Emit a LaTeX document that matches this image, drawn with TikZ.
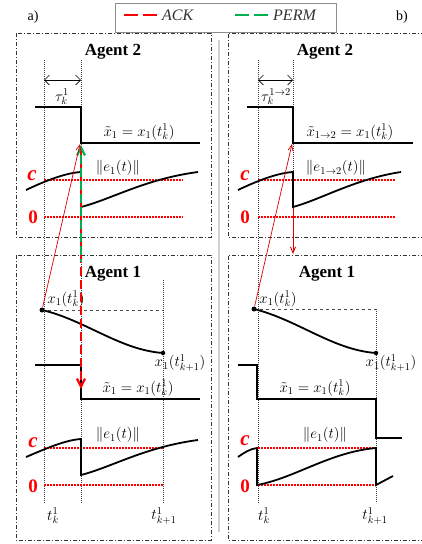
\RequirePackage{fix-cm}
\documentclass[tikz,border=0pt]{standalone}
\usepackage{fontspec}
\setmainfont{Liberation Serif}
\usetikzlibrary{arrows.meta}
\definecolor{myred}{HTML}{FF0000}
\definecolor{mygreen}{HTML}{00B050}
\definecolor{sepgray}{HTML}{D0D0D0}
\begin{document}
\begin{tikzpicture}[x=1pt,y=-1pt,
  sig/.style={line width=1.8pt},
  guide/.style={dash pattern=on 0.8pt off 1.2pt, line width=0.5pt, black!75},
  lvl/.style={dash pattern=on 1.5pt off 1.5pt, line width=1.5pt, myred},
  frame/.style={dash pattern=on 4pt off 2pt on 1pt off 2pt, line width=0.8pt, black!80},
  title/.style={font=\bfseries\fontsize{17}{19}\selectfont, inner sep=0pt},
  lab/.style={font=\fontsize{15}{17}\selectfont, inner sep=0pt},
  clab/.style={text=myred, inner sep=0pt, font=\bfseries\itshape\fontsize{21}{23}\selectfont},
  zlab/.style={text=myred, inner sep=0pt, font=\bfseries\fontsize{19}{21}\selectfont},
  thinred/.style={myred!85!black, line width=0.7pt, -{Straight Barb[length=6pt,width=5pt]}},
  ack/.style={myred, line width=2.2pt, dash pattern=on 9pt off 4pt},
  perm/.style={mygreen, line width=2.2pt, dash pattern=on 9pt off 4pt},
  dot/.style={circle, fill=black, inner sep=0pt, minimum size=5pt},
  plab/.style={font=\fontsize{14}{16}\selectfont, inner sep=0pt}
]
\useasboundingbox (0,0) rectangle (421,544);

% panel labels and legend
\node[plab] (la) at (33,17) {a)};
\node[plab] (lb) at (402,17) {b)};
\draw[black!45, line width=0.6pt] (115,3) rectangle (336,32);
\coordinate (ackA) at (124,15); \coordinate (ackB) at (161,15);
\draw[ack, line width=2pt, dash pattern=on 14pt off 5pt] (ackA) -- (ackB);
\node[font=\itshape\fontsize{16}{18}\selectfont, anchor=west, inner sep=0pt, black!80] (ackT) at (162,15) {ACK};
\coordinate (permA) at (235,15); \coordinate (permB) at (272,15);
\draw[perm, line width=2pt, dash pattern=on 14pt off 5pt] (permA) -- (permB);
\node[font=\itshape\fontsize{16}{18}\selectfont, anchor=west, inner sep=0pt, black!80] (permT) at (273,15) {PERM};

% separator
\draw[sepgray, line width=1.6pt] (219,40) -- (219,532);

% frames
\draw[frame] (16,33) rectangle (211,237);
\draw[frame] (16,255) rectangle (211,540);
\draw[frame] (425,33) -- (228,33) -- (228,237) -- (425,237);
\draw[frame] (425,255) -- (228,255) -- (228,540) -- (425,540);

%================ PANEL A =================
\node[title] (a2t) at (113,52) {Agent 2};
\node[title] (a1t) at (113,274) {Agent 1};
% guides
\draw[guide] (44,60) -- (44,503);
\draw[guide] (81,60) -- (81,503);
\draw[guide] (163,280) -- (163,503);
% tau
\coordinate (ta1) at (44,80); \coordinate (ta2) at (81,80);
\draw[line width=0.6pt, {Straight Barb[length=5pt]}-{Straight Barb[length=5pt]}] (ta1) -- (ta2);
\node[lab] (tauA) at (62,97) {$\tau_k^1$};
% Agent 2 signal
\draw[sig] (35,107) -- (81,107) -- (81,143) -- (200,143);
\node[lab] (xa2) at (139,132) {$\tilde{x}_1 = x_1(t_k^1)$};
% Agent 2 error
\draw[lvl] (44,180) -- (183,180);
\draw[lvl] (44,217) -- (183,217);
\node[clab] (ca2) at (32,176) {c};
\node[zlab] (za2) at (33,217) {0};
\draw[sig] (26,190) .. controls (45,181) and (65,173) .. (81,172) -- (81,207) .. controls (112,199) and (145,179) .. (198,172);
\node[lab] (ea2) at (118,168) {$\Vert e_1(t)\Vert$};
% Agent 1
\coordinate (pA) at (42,310);
\coordinate (qA) at (163,353);
\draw[dashed, black!70, line width=0.7pt] (pA) -- (163,310);
\draw[sig] (pA) .. controls (85,320) and (120,350) .. (qA);
\node[dot] (dA) at (pA) {};
\node[dot, minimum size=4.5pt] (eA) at (qA) {};
\node[lab] (xkA) at (66,299) {$x_1(t_k^1)$};
\node[lab] (xk1A) at (180,363) {$x_1(t_{k+1}^1)$};
\draw[sig] (35,365) -- (81,365) -- (81,399) -- (200,399);
\node[lab] (xa1) at (138,388) {$\tilde{x}_1 = x_1(t_k^1)$};
\draw[lvl] (44,448) -- (163,448);
\draw[lvl] (44,485) -- (163,485);
\node[clab] (ca1) at (33,443) {c};
\node[zlab] (za1) at (33,486) {0};
\draw[sig] (26,457) .. controls (45,449) and (65,440) .. (81,439) -- (81,475) .. controls (112,467) and (145,447) .. (198,440);
\node[lab] (ea1) at (118,435) {$\Vert e_1(t)\Vert$};
\node[lab] (tkA) at (53,516) {$t_k^1$};
\node[lab] (tk1A) at (164,516) {$t_{k+1}^1$};
% messages
\coordinate (ackS) at (81,150); \coordinate (ackE) at (81,389);
\coordinate (permS) at (81,262); \coordinate (permE) at (81,145);
\draw[ack, -{Straight Barb[length=8pt,width=8pt]}] (ackS) -- (ackE);
\draw[perm, dash phase=6pt, -{Straight Barb[length=8pt,width=8pt]}] (permS) -- (permE);
\draw[thinred] (dA) -- (80,144);

%================ PANEL B =================
\node[title] (b2t) at (325,52) {Agent 2};
\node[title] (b1t) at (327,274) {Agent 1};
\draw[guide] (258,60) -- (258,503);
\draw[guide] (293,60) -- (293,217);
\draw[guide] (376,309) -- (376,503);
\coordinate (tb1) at (258,80); \coordinate (tb2) at (293,80);
\draw[line width=0.6pt, {Straight Barb[length=5pt]}-{Straight Barb[length=5pt]}] (tb1) -- (tb2);
\node[lab] (tauB) at (276,97) {$\tau_k^{1\to2}$};
\draw[sig] (247,107) -- (293,107) -- (293,143) -- (413,143);
\node[lab] (xb2) at (350,132) {$\tilde{x}_{1\to2} = x_1(t_k^1)$};
\draw[lvl] (258,180) -- (395,180);
\draw[lvl] (258,217) -- (395,217);
\node[clab] (cb2) at (245,176) {c};
\node[zlab] (zb2) at (245,217) {0};
\draw[sig] (238,190) .. controls (257,181) and (277,173) .. (293,172) -- (293,207) .. controls (322,199) and (355,179) .. (401,172);
\node[lab] (eb2) at (336,168) {$\Vert e_{1\to2}(t)\Vert$};
% Agent 1
\coordinate (pB) at (254,309);
\coordinate (qB) at (376,353);
\draw[dashed, black!70, line width=0.7pt] (pB) -- (376,309);
\draw[sig] (pB) .. controls (298,320) and (333,350) .. (qB);
\node[dot] (dB) at (pB) {};
\node[dot, minimum size=4.5pt] (eB) at (qB) {};
\node[lab] (xkB) at (278,299) {$x_1(t_k^1)$};
\node[lab] (xk1B) at (391,363) {$x_1(t_{k+1}^1)$};
\draw[sig] (238,365) -- (257,365) -- (257,399) -- (376,399) -- (376,438) -- (402,438);
\node[lab] (xb1) at (315,388) {$\tilde{x}_1 = x_1(t_k^1)$};
\draw[lvl] (258,448) -- (376,448);
\draw[lvl] (258,485) -- (376,485);
\node[clab] (cb1) at (245,441) {c};
\node[zlab] (zb1) at (245,486) {0};
\draw[sig] (238,457) .. controls (245,452) and (250,449) .. (257,448) -- (257,485) .. controls (295,478) and (330,452) .. (376,448) -- (376,485) -- (393,476);
\node[lab] (eb1) at (325,435) {$\Vert e_1(t)\Vert$};
\node[lab] (tkB) at (264,516) {$t_k^1$};
\node[lab] (tk1B) at (375,516) {$t_{k+1}^1$};
% messages
\coordinate (dnS) at (293,208); \coordinate (dnE) at (293,254);
\draw[thinred, line width=0.9pt] (dnS) -- (dnE);
\draw[thinred] (dB) -- (292,144);
\end{tikzpicture}
\end{document}
